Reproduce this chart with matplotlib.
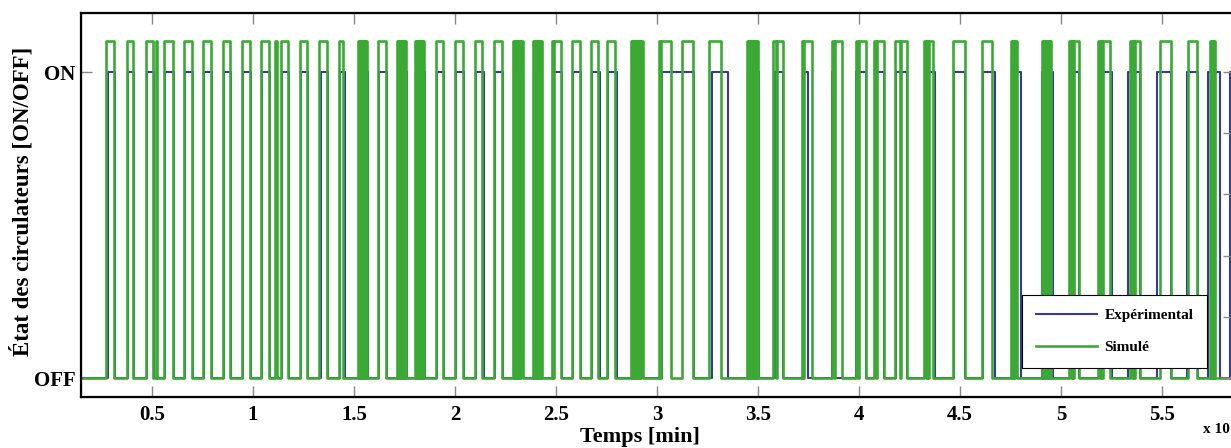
import numpy as np
import matplotlib
matplotlib.use("Agg")
import matplotlib.pyplot as plt

plt.rcParams['font.family'] = ['Liberation Serif', 'DejaVu Serif']
plt.rcParams['font.weight'] = 'bold'

# pump switching periods (start, stop) in the x-axis units
exp_on_off = [
    (0.282, 0.317), (0.381, 0.411), (0.475, 0.510), (0.564, 0.609), (0.663, 0.703),
    (0.757, 0.797), (0.856, 0.891), (0.950, 0.990), (1.045, 1.084), (1.144, 1.178),
    (1.238, 1.272), (1.337, 1.371), (1.431, 1.455), (1.525, 1.569), (1.624, 1.663),
    (1.718, 1.762), (1.807, 1.851), (1.911, 1.946), (2.005, 2.045), (2.104, 2.144),
    (2.198, 2.238), (2.292, 2.337), (2.391, 2.431), (2.485, 2.530), (2.584, 2.624),
    (2.678, 2.718), (2.757, 2.802), (2.876, 2.931), (3.025, 3.183), (3.272, 3.351),
    (3.450, 3.505), (3.584, 3.624), (3.723, 3.748), (3.866, 3.881), (3.985, 4.035),
    (4.079, 4.124), (4.183, 4.238), (4.327, 4.376), (4.470, 4.525), (4.614, 4.673),
    (4.757, 4.802), (4.906, 4.960), (5.045, 5.089), (5.193, 5.252), (5.332, 5.391),
    (5.475, 5.545), (5.624, 5.678), (5.728, 5.787), (5.837, 5.900),
]

sim_on_off = [
    (0.272, 0.312), (0.376, 0.406), (0.470, 0.505), (0.520, 0.525), (0.559, 0.604),
    (0.658, 0.698), (0.752, 0.792), (0.851, 0.886), (0.946, 0.985), (1.040, 1.079),
    (1.109, 1.119), (1.139, 1.173), (1.233, 1.267), (1.327, 1.366), (1.426, 1.446),
    (1.520, 1.525), (1.530, 1.535), (1.540, 1.545), (1.550, 1.555), (1.559, 1.564),
    (1.619, 1.658),
    (1.713, 1.718), (1.723, 1.728), (1.733, 1.738), (1.743, 1.748), (1.752, 1.757),
    (1.802, 1.807), (1.812, 1.817), (1.822, 1.827), (1.832, 1.837), (1.842, 1.847),
    (1.906, 1.941), (2.000, 2.040), (2.099, 2.134), (2.193, 2.233),
    (2.287, 2.292), (2.297, 2.302), (2.307, 2.312), (2.317, 2.322), (2.327, 2.337),
    (2.386, 2.391), (2.396, 2.401), (2.406, 2.411), (2.416, 2.421), (2.426, 2.431),
    (2.480, 2.485), (2.490, 2.525), (2.579, 2.619), (2.673, 2.708), (2.752, 2.792),
    (2.871, 2.876), (2.881, 2.886), (2.891, 2.896), (2.901, 2.906), (2.911, 2.916), (2.921, 2.931),
    (3.010, 3.016), (3.021, 3.069), (3.124, 3.178), (3.257, 3.317),
    (3.446, 3.451), (3.456, 3.461), (3.466, 3.471), (3.476, 3.481), (3.486, 3.491), (3.495, 3.500),
    (3.574, 3.589), (3.594, 3.624), (3.718, 3.723), (3.728, 3.767),
    (3.866, 3.876), (3.881, 3.916), (3.985, 3.995), (4.000, 4.035),
    (4.074, 4.084), (4.089, 4.124), (4.178, 4.203), (4.208, 4.238),
    (4.322, 4.332), (4.337, 4.342), (4.347, 4.366), (4.465, 4.525), (4.609, 4.658),
    (4.752, 4.757), (4.762, 4.767), (4.772, 4.782),
    (4.906, 4.911), (4.916, 4.921), (4.926, 4.931), (4.936, 4.941), (4.945, 4.950),
    (5.040, 5.050), (5.055, 5.060), (5.065, 5.089),
    (5.183, 5.193), (5.198, 5.203), (5.208, 5.243),
    (5.342, 5.352), (5.357, 5.362), (5.367, 5.391),
    (5.490, 5.545), (5.629, 5.673),
    (5.738, 5.743), (5.748, 5.753), (5.757, 5.762),
]

t_start = 0.0
t_end = 6.0
sim_level = 1.1
xticks = [0.5, 1, 1.5, 2, 2.5, 3, 3.5, 4, 4.5, 5, 5.5]
xticklabels = ['0.5', '1', '1.5', '2', '2.5', '3', '3.5', '4', '4.5', '5', '5.5']


def steps(periods, level):
    t = [t_start]
    y = [0]
    for a, b in periods:
        t += [a, a, b, b]
        y += [0, level, level, 0]
    t.append(t_end)
    y.append(y[-1])
    return np.array(t), np.array(y)


W, H = 1231, 448
fig = plt.figure(figsize=(W / 100, H / 100), dpi=100)
ax = fig.add_axes([81 / W, 1 - 397 / H, (1233 - 81) / W, (397 - 13) / H])

t1, y1 = steps(exp_on_off, 1.0)
t2, y2 = steps(sim_on_off, sim_level)
ax.plot(t1, y1, color='#3a3898', lw=1.5, label='Expérimental')
ax.plot(t2, y2, color='#3aaa35', lw=1.9, label='Simulé')

ax.set_xlim(0.149, 5.851)
ax.set_ylim(-0.062, 1.193)

ax.set_xticks(xticks)
ax.set_xticklabels(xticklabels)
ax.set_yticks([0, 1])
ax.set_yticklabels(['OFF', 'ON'])
ax.tick_params(axis='both', direction='in', length=8, width=1, color='#888888',
               labelsize=15, top=True, pad=6)
ax.tick_params(axis='y', pad=4)
for s in ax.spines.values():
    s.set_linewidth(1.6)

ax2 = ax.twinx()
ax2.set_ylim(ax.get_ylim())
ax2.set_yticks([0, 0.2, 0.4, 0.6, 0.8, 1.0])
ax2.set_yticklabels([])
ax2.tick_params(direction='in', length=7, width=1, color='#888888')
ax2.spines['right'].set_visible(False)

ax.set_ylabel('État des circulateurs [ON/OFF]', fontsize=16.5, fontweight='bold')
ax.yaxis.set_label_coords(-0.041, 0.51)
ax.set_xlabel('Temps [min]', fontsize=16, fontweight='bold')
ax.xaxis.set_label_coords((640 - 81) / (1233 - 81), -0.078)

fig.text(1203 / W, 1 - 433 / H, 'x 10', fontsize=11, fontweight='bold')

leg = ax.legend(loc='lower left', bbox_to_anchor=(1022 / W, 1 - 368 / H),
                bbox_transform=fig.transFigure, fancybox=False, framealpha=1,
                edgecolor='black', fontsize=11, handlelength=4.0, handletextpad=0.5,
                labelspacing=1.2, borderpad=0.9, borderaxespad=0)
leg.get_frame().set_linewidth(0.8)

fig.savefig('out.png', dpi=100)
